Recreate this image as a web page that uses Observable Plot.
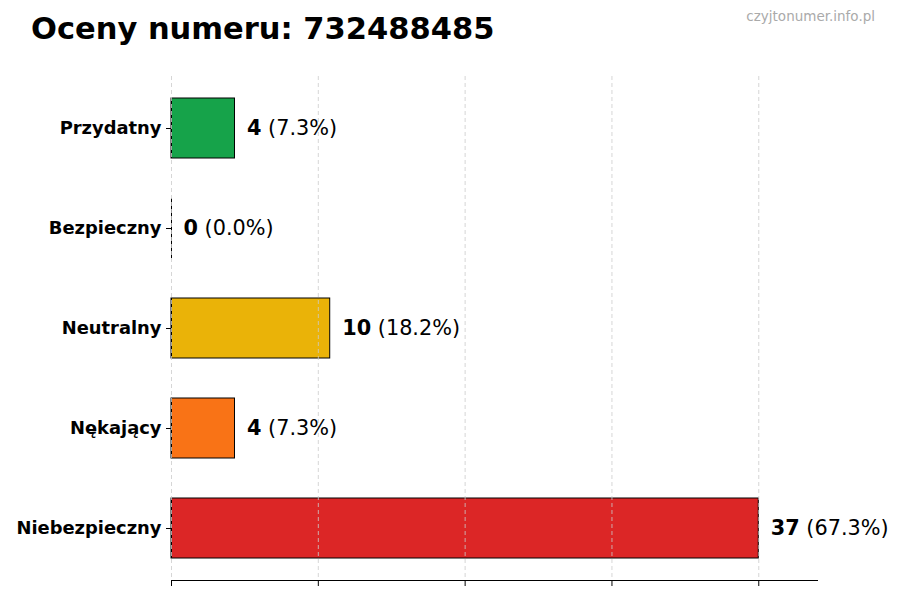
<!DOCTYPE html>
<html>
<head>
<meta charset="utf-8">
<script src="https://cdn.jsdelivr.net/npm/d3@7"></script>
<script src="https://cdn.jsdelivr.net/npm/@observablehq/plot@0.6"></script>
<style>
  html, body { margin: 0; padding: 0; background: #fff; }
  #wrap { width: 900px; height: 600px; position: relative; font-family: "DejaVu Sans", sans-serif; }
  #head { position: relative; width: 900px; height: 60px; }
  #title { position: absolute; left: 31px; top: 14px; font-size: 30.5px; line-height: 30px; font-weight: bold; color: #000; white-space: nowrap; }
  #wm { position: absolute; right: 25px; top: 10px; font-size: 13.5px; line-height: 13.5px; color: #aaaaaa; white-space: nowrap; }
  svg { display: block; }
</style>
</head>
<body>
<div id="wrap">
  <div id="head">
    <div id="title">Oceny numeru: 732488485</div>
    <div id="wm">czyjtonumer.info.pl</div>
  </div>
  <div id="chart"></div>
</div>
<script>
const categories = ["Przydatny", "Bezpieczny", "Neutralny", "Nękający", "Niebezpieczny"];
const counts = [4, 0, 10, 4, 37];
const percents = ["7.3%", "0.0%", "18.2%", "7.3%", "67.3%"];
const colors = ["#16a34a", "#eab308", "#eab308", "#f97316", "#dc2626"];
const xTicks = [0, 9.25, 18.5, 27.75, 37];
const xMax = 40.7;

const data = categories.map((c, i) => ({
  cat: c, count: counts[i], pct: percents[i], color: colors[i],
  label: counts[i] + " (" + percents[i] + ")"
}));

const chart = Plot.plot({
  width: 900,
  height: 540,
  marginLeft: 171,
  marginRight: 83,
  marginTop: 16,
  marginBottom: 20,
  style: { fontFamily: "DejaVu Sans, sans-serif", background: "#fff" },
  x: { domain: [0, xMax], axis: null, label: null },
  y: { domain: categories, paddingInner: 0.4, paddingOuter: 0.2, insetTop: 2, insetBottom: 2, axis: null, label: null },
  marks: [
    Plot.barX(data, { y: "cat", x: "count", fill: d => d.color, stroke: "#000", strokeWidth: 1 }),
    Plot.tickX(data, { y: "cat", x: () => 0, stroke: "#000", strokeWidth: 1 }),
    Plot.ruleX(xTicks, { stroke: "#cccccc", strokeWidth: 0.8, strokeDasharray: "4,3" }),
    Plot.frame({ anchor: "bottom", stroke: "#000", strokeWidth: 1 }),
    Plot.axisX({ ticks: xTicks, tickFormat: () => "", tickSize: 6, stroke: "#000", label: null }),
    Plot.axisY({ tickSize: 5, tickPadding: 5, fontSize: 17.9, fontWeight: "bold", fill: "#000", stroke: "#000", label: null }),
    Plot.text(data, { y: "cat", x: "count", text: "label", dx: 12, textAnchor: "start", lineAnchor: "middle", fontSize: 20.8, fill: "#000" })
  ]
});

document.getElementById("chart").appendChild(chart);

// Split value labels into bold count + regular percentage
d3.select(chart).selectAll('g[aria-label="text"] text').each(function() {
  const t = this.textContent;
  const idx = t.indexOf(" ");
  const sel = d3.select(this);
  sel.text(null);
  sel.append("tspan").attr("font-weight", "bold").text(t.slice(0, idx));
  sel.append("tspan").text(t.slice(idx));
});
</script>
</body>
</html>
